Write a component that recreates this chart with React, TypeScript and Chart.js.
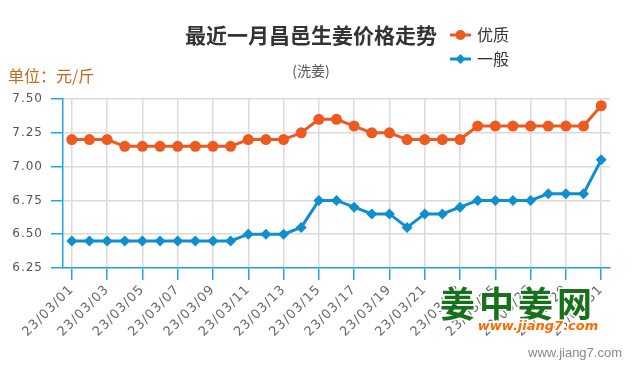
import React, { useEffect, useRef } from 'react';
import { Chart, registerables } from 'chart.js';

Chart.register(...registerables);

const categories = [
  '23/03/01', '23/03/02', '23/03/03', '23/03/04', '23/03/05', '23/03/06', '23/03/07', '23/03/08',
  '23/03/09', '23/03/10', '23/03/11', '23/03/12', '23/03/13', '23/03/14', '23/03/15', '23/03/16',
  '23/03/17', '23/03/18', '23/03/19', '23/03/20', '23/03/21', '23/03/22', '23/03/23', '23/03/24',
  '23/03/25', '23/03/26', '23/03/27', '23/03/28', '23/03/29', '23/03/30', '23/03/31',
];

const premiumPrices = [
  7.2, 7.2, 7.2, 7.15, 7.15, 7.15, 7.15, 7.15, 7.15, 7.15, 7.2, 7.2, 7.2, 7.25, 7.35, 7.35,
  7.3, 7.25, 7.25, 7.2, 7.2, 7.2, 7.2, 7.3, 7.3, 7.3, 7.3, 7.3, 7.3, 7.3, 7.45,
];

const regularPrices = [
  6.45, 6.45, 6.45, 6.45, 6.45, 6.45, 6.45, 6.45, 6.45, 6.45, 6.5, 6.5, 6.5, 6.55, 6.75, 6.75,
  6.7, 6.65, 6.65, 6.55, 6.65, 6.65, 6.7, 6.75, 6.75, 6.75, 6.75, 6.8, 6.8, 6.8, 7.05,
];

const seriesNames = ['优质', '一般'];
const yTickValues = [6.25, 6.5, 6.75, 7.0, 7.25, 7.5];

const titleText = '最近一月昌邑生姜价格走势';
const subtitleText = '(洗姜)';
const unitText = '单位：元/斤';
const logoText = '姜中姜网';
const logoUrl = 'www.jiang7.com';
const footerText = 'www.jiang7.com';

const ORANGE = '#ec5a1f';
const BLUE = '#0f8fcb';
const AXIS_BLUE = '#22a6e0';
const GRID = '#dadada';
const CJK = '"Noto Sans CJK SC", "Noto Sans", sans-serif';

const textPlugin = {
  id: 'customTexts',
  beforeDraw(chart: any) {
    chart.ctx.letterSpacing = '1px';
  },
  afterDraw(chart: any) {
    const ctx = chart.ctx as CanvasRenderingContext2D;
    ctx.save();
    (ctx as any).letterSpacing = '0px';

    // title
    ctx.fillStyle = '#333333';
    ctx.font = `bold 21px ${CJK}`;
    ctx.textAlign = 'center';
    ctx.textBaseline = 'middle';
    ctx.fillText(titleText, 311, 35);

    // subtitle
    ctx.fillStyle = '#555555';
    ctx.font = `14px ${CJK}`;
    ctx.fillText(subtitleText, 311, 71);

    // unit
    ctx.fillStyle = '#c9661f';
    ctx.font = `16px ${CJK}`;
    ctx.textAlign = 'left';
    ctx.fillText(unitText, 8, 76);

    // legend
    chart.data.datasets.forEach((ds: any, i: number) => {
      const y = 35 + i * 24;
      ctx.strokeStyle = ds.borderColor;
      ctx.lineWidth = 3;
      ctx.beginPath();
      ctx.moveTo(450, y);
      ctx.lineTo(471, y);
      ctx.stroke();
      ctx.fillStyle = ds.borderColor;
      ctx.beginPath();
      if (ds.pointStyle === 'rectRot') {
        const r = 5;
        ctx.moveTo(460.5, y - r);
        ctx.lineTo(460.5 + r, y);
        ctx.lineTo(460.5, y + r);
        ctx.lineTo(460.5 - r, y);
        ctx.closePath();
      } else {
        ctx.arc(460.5, y, 5, 0, Math.PI * 2);
      }
      ctx.fill();
      ctx.fillStyle = '#333333';
      ctx.font = `16px ${CJK}`;
      ctx.textAlign = 'left';
      ctx.fillText(ds.label, 477, y);
    });

    // watermark logo
    ctx.textAlign = 'center';
    ctx.font = `bold 35px ${CJK}`;
    (ctx as any).letterSpacing = '4px';
    ctx.lineWidth = 3;
    ctx.strokeStyle = '#ffffff';
    ctx.strokeText(logoText, 518, 304);
    ctx.fillStyle = '#17701a';
    ctx.fillText(logoText, 518, 304);
    (ctx as any).letterSpacing = '0px';
    ctx.font = 'italic bold 13px "DejaVu Sans", sans-serif';
    ctx.strokeText(logoUrl, 538, 327);
    ctx.fillStyle = '#ff6a00';
    ctx.fillText(logoUrl, 538, 327);

    // footer
    ctx.font = '13px "Liberation Sans", Arial, sans-serif';
    ctx.fillStyle = '#888888';
    ctx.textAlign = 'right';
    ctx.fillText(footerText, 622, 353);

    ctx.restore();
  },
};

export default function App() {
  const canvasRef = useRef<HTMLCanvasElement | null>(null);

  useEffect(() => {
    const canvas = canvasRef.current;
    if (!canvas) return;
    const chart = new Chart(canvas, {
      type: 'line',
      data: {
        labels: categories,
        datasets: [
          {
            label: seriesNames[0],
            data: premiumPrices,
            borderColor: ORANGE,
            backgroundColor: ORANGE,
            borderWidth: 3,
            pointStyle: 'circle',
            pointRadius: 5.5,
            pointBorderWidth: 0,
            pointBackgroundColor: ORANGE,
            tension: 0,
          },
          {
            label: seriesNames[1],
            data: regularPrices,
            borderColor: BLUE,
            backgroundColor: BLUE,
            borderWidth: 3,
            pointStyle: 'rectRot',
            pointRadius: 5.5,
            pointBorderWidth: 0,
            pointBackgroundColor: BLUE,
            tension: 0,
          },
        ],
      },
      options: {
        animation: false,
        responsive: false,
        devicePixelRatio: 1,
        layout: { padding: { top: 99, right: 25, bottom: 0, left: 0 } },
        plugins: {
          legend: { display: false },
          title: { display: false },
          tooltip: { enabled: false },
        },
        scales: {
          x: {
            type: 'category',
            offset: true,
            border: { color: AXIS_BLUE, width: 1.5 },
            grid: {
              offset: false,
              drawTicks: true,
              tickLength: 12,
              lineWidth: 1.5,
              color: (c: any) => (c.index % 2 === 0 ? GRID : 'rgba(0,0,0,0)'),
              tickColor: (c: any) => (c.index % 2 === 0 ? AXIS_BLUE : 'rgba(0,0,0,0)'),
            },
            ticks: {
              autoSkip: false,
              minRotation: 45,
              maxRotation: 45,
              padding: 2,
              color: '#666666',
              font: { family: '"DejaVu Sans", sans-serif', size: 13 },
              callback: (_v: any, i: number) => (i % 2 === 0 ? categories[i] : ''),
            },
            afterFit: (scale: any) => {
              scale.height = 107;
            },
          },
          y: {
            min: 6.25,
            max: 7.5,
            border: { color: AXIS_BLUE, width: 1.5 },
            grid: {
              color: GRID,
              lineWidth: 1.5,
              tickColor: AXIS_BLUE,
              tickLength: 12,
            },
            afterBuildTicks: (scale: any) => {
              scale.ticks = yTickValues.map((v) => ({ value: v }));
            },
            ticks: {
              padding: 8,
              color: '#555555',
              font: { family: '"DejaVu Sans", sans-serif', size: 12 },
              callback: (v: any) => Number(v).toFixed(2),
            },
            afterFit: (scale: any) => {
              scale.width = 63;
            },
          },
        },
      },
      plugins: [textPlugin],
    });
    return () => chart.destroy();
  }, []);

  return (
    <div style={{ position: 'fixed', left: 0, top: 0, width: 635, height: 375, background: '#ffffff' }}>
      <canvas ref={canvasRef} width={635} height={375} style={{ display: 'block' }} />
    </div>
  );
}
